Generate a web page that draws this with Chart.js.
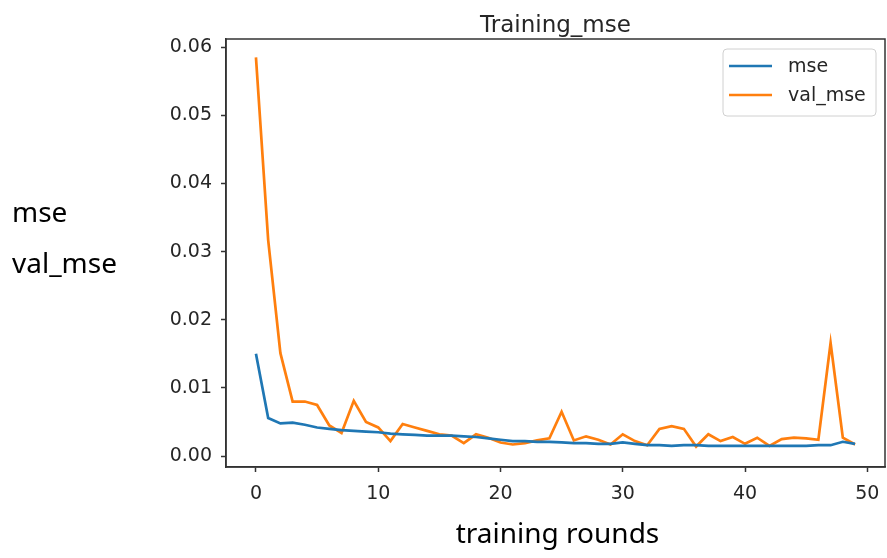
<!DOCTYPE html>
<html>
<head>
<meta charset="utf-8">
<script src="https://cdn.jsdelivr.net/npm/chart.js@4.4.1/dist/chart.umd.min.js"></script>
<style>
  html, body { margin: 0; padding: 0; background: #fff; }
  #chart { display: block; }
</style>
</head>
<body>
<canvas id="chart" width="887" height="558"></canvas>
<script>
const rounds = [0, 1, 2, 3, 4, 5, 6, 7, 8, 9, 10, 11, 12, 13, 14, 15, 16, 17, 18, 19,
  20, 21, 22, 23, 24, 25, 26, 27, 28, 29, 30, 31, 32, 33, 34, 35, 36, 37, 38, 39,
  40, 41, 42, 43, 44, 45, 46, 47, 48, 49];

const mse = [0.0150, 0.0056, 0.0048, 0.0049, 0.0046, 0.0042, 0.0040, 0.0038, 0.0037, 0.0036,
  0.0035, 0.0033, 0.0032, 0.0031, 0.0030, 0.0030, 0.0030, 0.0029, 0.0028, 0.0026,
  0.0024, 0.0022, 0.0022, 0.0021, 0.0021, 0.0020, 0.0019, 0.0019, 0.0018, 0.0018,
  0.0020, 0.0018, 0.0016, 0.0016, 0.0015, 0.0016, 0.0016, 0.0015, 0.0015, 0.0015,
  0.0015, 0.0015, 0.0015, 0.0015, 0.0015, 0.0015, 0.0016, 0.0016, 0.0021, 0.0018];

const valMse = [0.0585, 0.0317, 0.0151, 0.0080, 0.0080, 0.0075, 0.0045, 0.0034, 0.0081, 0.0050,
  0.0042, 0.0022, 0.0047, 0.0042, 0.0037, 0.0032, 0.0030, 0.0019, 0.0032, 0.0027,
  0.0020, 0.0017, 0.0019, 0.0023, 0.0026, 0.0065, 0.0023, 0.0029, 0.0024, 0.0017,
  0.0032, 0.0022, 0.0016, 0.0040, 0.0044, 0.0040, 0.0014, 0.0032, 0.0022, 0.0028,
  0.0018, 0.0027, 0.0015, 0.0025, 0.0027, 0.0026, 0.0024, 0.0166, 0.0027, 0.0017];

const xTicks = [0, 10, 20, 30, 40, 50];
const yTicks = [0.00, 0.01, 0.02, 0.03, 0.04, 0.05, 0.06];

const frameColor = '#333333';
const tickFont = { family: 'DejaVu Sans', size: 19 };

// frame, title, legend and the outside labels
const decorations = {
  id: 'decorations',
  afterDraw(chart) {
    const { ctx, chartArea: a } = chart;
    ctx.save();
    ctx.strokeStyle = frameColor;
    ctx.lineWidth = 1.5;
    ctx.strokeRect(a.left, a.top, a.right - a.left, a.bottom - a.top);

    ctx.fillStyle = '#262626';
    ctx.font = '23px "DejaVu Sans"';
    ctx.textAlign = 'center';
    ctx.textBaseline = 'alphabetic';
    ctx.fillText('Training_mse', (a.left + a.right) / 2, a.top - 7);

    // legend
    const bw = 153, bh = 67;
    const bx = a.right - 9 - bw, by = a.top + 10;
    ctx.beginPath();
    ctx.roundRect(bx, by, bw, bh, 4);
    ctx.fillStyle = 'rgba(255,255,255,0.8)';
    ctx.fill();
    ctx.strokeStyle = '#d0d0d0';
    ctx.lineWidth = 1;
    ctx.stroke();
    ctx.font = '19px "DejaVu Sans"';
    ctx.textAlign = 'left';
    ctx.textBaseline = 'middle';
    chart.data.datasets.forEach((ds, i) => {
      const y = by + 17 + i * 29;
      ctx.strokeStyle = ds.borderColor;
      ctx.lineWidth = 2.7;
      ctx.beginPath();
      ctx.moveTo(bx + 6, y);
      ctx.lineTo(bx + 49, y);
      ctx.stroke();
      ctx.fillStyle = '#262626';
      ctx.fillText(ds.label, bx + 65, y + 1);
    });

    ctx.fillStyle = '#000';
    ctx.font = '28px "Noto Sans"';
    ctx.textBaseline = 'alphabetic';
    ctx.textAlign = 'center';
    ctx.fillText('training rounds', (a.left + a.right) / 2 + 2, 543);
    ctx.textAlign = 'left';
    ctx.fillText('mse', 12, 222);
    ctx.fillText('val_mse', 12, 273);
    ctx.restore();
  }
};

new Chart(document.getElementById('chart'), {
  type: 'line',
  data: {
    datasets: [{
      label: 'mse',
      data: rounds.map((r, i) => ({ x: r, y: mse[i] })),
      borderColor: '#1f77b4',
      borderWidth: 2.7,
      pointRadius: 0,
      tension: 0
    }, {
      label: 'val_mse',
      data: rounds.map((r, i) => ({ x: r, y: valMse[i] })),
      borderColor: '#ff7f0e',
      borderWidth: 2.7,
      pointRadius: 0,
      tension: 0
    }]
  },
  options: {
    responsive: false,
    animation: false,
    layout: { padding: { top: 39, right: 2, left: 0, bottom: 0 } },
    plugins: {
      legend: { display: false },
      title: { display: false },
      tooltip: { enabled: false }
    },
    scales: {
      x: {
        type: 'linear',
        min: -2.45,
        max: 51.45,
        afterBuildTicks: (s) => { s.ticks = xTicks.map(v => ({ value: v })); },
        afterFit: (s) => { s.height = 91; s.paddingLeft = 0; s.paddingRight = 0; },
        grid: { drawOnChartArea: false, drawTicks: true, tickLength: 5, tickColor: frameColor, tickWidth: 1.5 },
        border: { display: true, color: frameColor, width: 1.5 },
        ticks: { font: tickFont, color: '#262626', padding: 11, maxRotation: 0, callback: v => String(v) }
      },
      y: {
        type: 'linear',
        min: -0.0016,
        max: 0.0612,
        afterBuildTicks: (s) => { s.ticks = yTicks.map(v => ({ value: v })); },
        afterFit: (s) => { s.width = 226; s.paddingTop = 0; s.paddingBottom = 0; },
        grid: { drawOnChartArea: false, drawTicks: true, tickLength: 5, tickColor: frameColor, tickWidth: 1.5 },
        border: { display: true, color: frameColor, width: 1.5 },
        ticks: { font: tickFont, color: '#262626', padding: 9, callback: v => v.toFixed(2) }
      }
    }
  },
  plugins: [decorations]
});
</script>
</body>
</html>
